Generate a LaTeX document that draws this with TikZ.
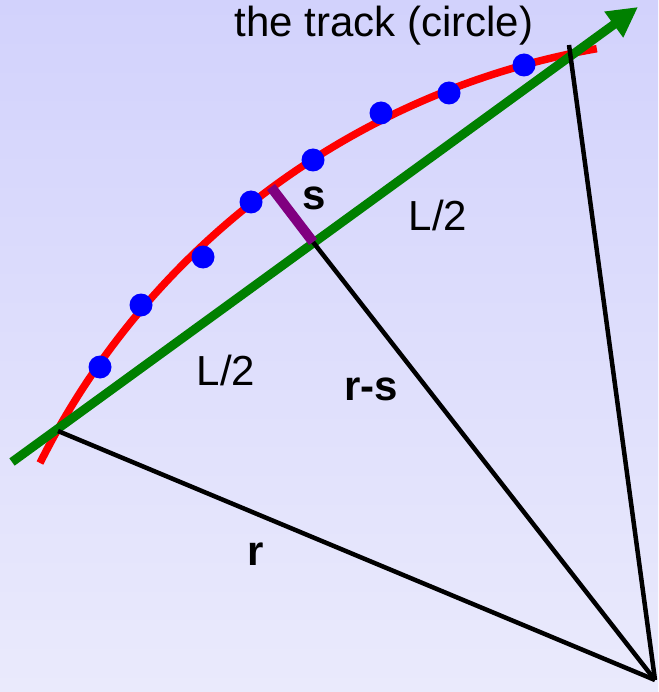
\documentclass[tikz,border=0pt]{standalone}
\usepackage{fontspec}
\setmainfont{Liberation Sans}
\usetikzlibrary{arrows.meta}
\definecolor{bgtop}{RGB}{210,210,252}
\definecolor{bgbot}{RGB}{234,234,252}
\definecolor{trackred}{RGB}{255,0,0}
\definecolor{chordgreen}{RGB}{0,128,0}
\definecolor{hitblue}{RGB}{0,0,255}
\definecolor{sagpurple}{RGB}{128,0,128}

\begin{document}
\begin{tikzpicture}[x=1pt, y=-1pt,
    every node/.style={font=\fontsize{42}{50}\selectfont, text=black, inner sep=0pt},
    boldlabel/.style={font=\fontsize{42}{50}\selectfont\bfseries},
    track/.style={draw=trackred, line width=7.5pt},
    chord/.style={draw=chordgreen, line width=9pt, -{Triangle[length=30pt,width=30pt]}},
    radial/.style={draw=black, line width=4.5pt},
    sagitta/.style={draw=sagpurple, line width=10pt},
    hit/.style={fill=hitblue},
  ]

  % background
  \shade[top color=bgtop, bottom color=bgbot] (0,0) rectangle (658,692);
  \useasboundingbox (0,0) rectangle (658,692);

  % the points of the construction
  \coordinate (O) at (655,680);
  \coordinate (A) at (58,431);
  \coordinate (B) at (569,45);
  \coordinate (M) at (313,242);
  \coordinate (T) at (271,187);
  \coordinate (g0) at (12,462);
  \coordinate (g1) at (638,7);

  % the track
  \draw[track] (40,463) arc[start angle=206.6, end angle=260.1, radius=771];

  % chord and radii
  \draw[chord] (g0) -- (g1);
  \draw[radial] (A) -- (O);
  \draw[radial] (B) -- (O);
  \draw[radial] (M) -- (O);
  \draw[sagitta] (M) -- (T);

  % the hits
  \foreach \p in {(100,367),(141,305),(203,257),(251,202),(313,160),(381,113),(449,93),(524,65)}
    \fill[hit] \p circle[radius=11.5];

  % labels
  \node[anchor=base] (title) at (384,37) {the track (circle)};
  \node[boldlabel] (sLabel) at (314,198) {s};
  \node (halfUp) at (438,215) {L/2};
  \node (halfLow) at (226,370) {L/2};
  \node[boldlabel] (rsLabel) at (371,389) {r-s};
  \node[boldlabel] (rLabel) at (256,554) {r};
\end{tikzpicture}
\end{document}
